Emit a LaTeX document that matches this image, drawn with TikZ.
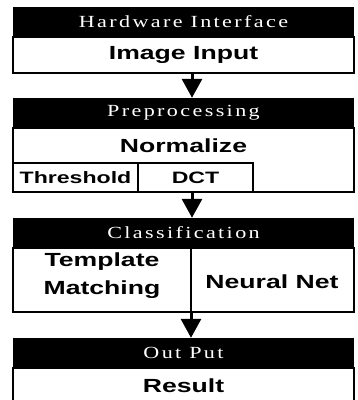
\documentclass[tikz,border=0pt]{standalone}
\usepackage{fontspec}
\usetikzlibrary{arrows.meta}
\newfontfamily\boxfont[FakeStretch=1.4]{Liberation Sans}
\newfontfamily\headfont[FakeStretch=1.3,LetterSpace=14]{Liberation Serif}
\begin{document}
\begin{tikzpicture}[x=1pt,y=-1pt,
	head/.style={rectangle,fill=black,text=white,minimum width=341pt,minimum height=30pt,
		inner sep=0,font=\headfont\fontsize{17}{17}\selectfont},
	stage/.style={rectangle,draw,line width=1.6pt,minimum width=341pt,inner sep=0},
	label/.style={inner sep=0,align=center,font=\boxfont\bfseries\fontsize{19}{28}\selectfont},
	small/.style={rectangle,draw,line width=2pt,minimum height=29pt,inner sep=0,
		font=\boxfont\bfseries\fontsize{16.5}{18}\selectfont},
	flow/.style={line width=3pt,-{Triangle[width=20pt,length=19pt]}}]
\path[use as bounding box,clip] (0,0) rectangle (358,400);
% hardware interface
\node[head] (hw) at (183.5,22) {Hardware Interface};
\node[stage,minimum height=36pt] (input) at (183.5,55) {};
\node[label] at (input) {Image Input};
% preprocessing
\node[head] (pre) at (183.5,113) {Preprocessing};
\node[stage,minimum height=64pt] (prebox) at (183.5,160) {};
\node[label] (norm) at (183.5,146) {Normalize};
\node[small,minimum width=125pt] (thr) at (75.5,177.5) {Threshold};
\node[small,minimum width=115pt] (dct) at (195.5,177.5) {DCT};
% classification
\node[head] (cls) at (183.5,233) {Classification};
\node[stage,minimum height=64pt] (clsbox) at (183.5,280) {};
\node[label] (tm) at (102,276) {Template\\Matching};
\node[label] (nn) at (272,282) {Neural Net};
\draw[line width=1.6pt] ([xshift=7.5pt]cls.south) -- ([xshift=7.5pt]clsbox.south);
% output
\node[head] (out) at (183.5,353) {Out Put};
\node[stage,minimum height=36pt] (res) at (183.5,386) {};
\node[label] at (183.5,386) {Result};
% arrows between the stages
\draw[flow] ([xshift=8.5pt]input.south) -- ([xshift=8.5pt]pre.north);
\draw[flow] ([xshift=8.5pt]prebox.south) -- ([xshift=8.5pt]cls.north);
\draw[flow] ([xshift=7.5pt]clsbox.south) -- ([xshift=7.5pt]out.north);
\end{tikzpicture}
\end{document}
